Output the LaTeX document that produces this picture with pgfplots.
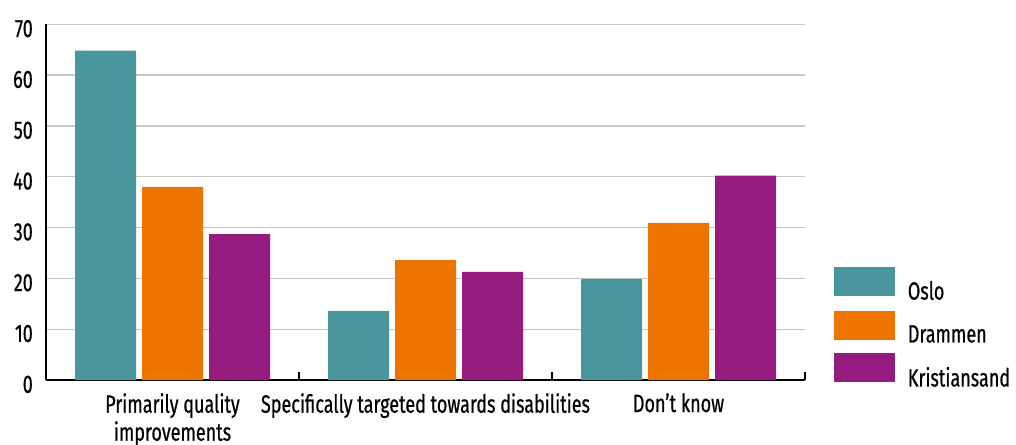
\documentclass[border=0pt]{standalone}
\usepackage{fontspec}
\setmainfont{Fira Sans}[FakeStretch=0.72, FakeBold=0.6]
\usepackage{pgfplots}
\pgfplotsset{compat=1.18}
\definecolor{oslo}{RGB}{74,150,159}
\definecolor{drammen}{RGB}{237,116,0}
\definecolor{krs}{RGB}{149,27,127}
\pgfplotsset{
  boxlegend/.style={legend image code/.code={\fill[##1] (0pt,-5pt) rectangle (61pt,24pt);}},
}
\begin{document}
\begin{tikzpicture}
\begin{axis}[
  at={(46pt,-380pt)}, anchor=south west,
  scale only axis, width=759pt, height=355.7pt,
  xmin=-0.5, xmax=2.5, ymin=0, ymax=70,
  ybar=6pt, bar width=61pt,
  axis x line=bottom, axis y line=left,
  axis line style={-, line width=1.8pt, black},
  ytick={0,10,...,70},
  ymajorgrids, grid style={line width=1.3pt, color=black!22},
  xtick={0,1,2},
  xticklabels={{Primarily quality\\improvements}, Specifically targeted towards disabilities, Don’t know},
  extra x ticks={0.5,1.5,2.5}, extra x tick labels={},
  extra x tick style={grid=none, major tick length=8pt, tick align=inside, tick style={line width=1.5pt, black}},
  major tick length=0pt,
  ytick style={draw=none},
  /pgf/number format/assume math mode=true,
  tick label style={font=\fontsize{25}{28}\selectfont},
  yticklabel style={anchor=base east, inner sep=0pt, xshift=-13pt, yshift=-12.7pt},
  xticklabel style={anchor=north, inner sep=0pt, yshift=-13pt, align=center},
  legend style={at={(1.038,0.3177)}, anchor=north west, draw=none, fill=none,
    inner sep=0pt, outer sep=0pt, row sep=9.5pt,
    font=\fontsize{25}{28}\selectfont,
    nodes={inner sep=0pt},
    /tikz/every odd column/.append style={column sep=13pt}},
  legend cell align=left,
]
\addplot[fill=oslo, draw=none, boxlegend] coordinates {(0,64.8) (1,13.6) (2,19.9)};
\addplot[fill=drammen, draw=none, boxlegend] coordinates {(0,38.0) (1,23.6) (2,30.9)};
\addplot[fill=krs, draw=none, boxlegend] coordinates {(0,28.7) (1,21.3) (2,40.2)};
\legend{Oslo, Drammen, Kristiansand}
\end{axis}
\pgfresetboundingbox
\path (0pt,0pt) rectangle (1016pt,-444pt);
\end{tikzpicture}
\end{document}
